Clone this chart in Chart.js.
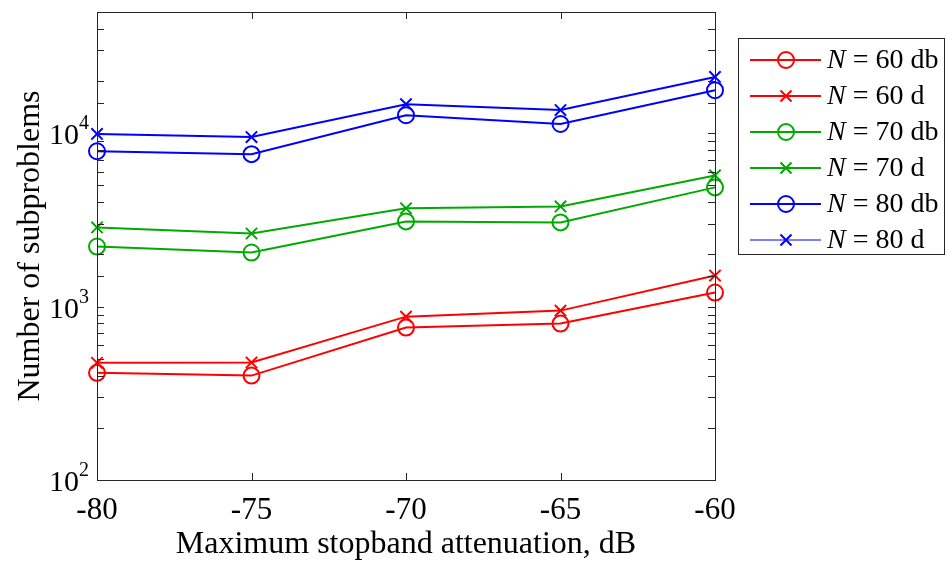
<!DOCTYPE html>
<html>
<head>
<meta charset="utf-8">
<script src="https://cdn.jsdelivr.net/npm/chart.js@4"></script>
<style>
  body { margin: 0; background: #fff; }
</style>
</head>
<body>
<canvas id="subChart" width="946" height="565"></canvas>
<script>
// values (log y axis)
const attenuation = [-80, -75, -70, -65, -60];
const n60db = [415, 400, 757, 798, 1205];
const n60d  = [474, 476, 875, 948, 1510];
const n70db = [2220, 2050, 3100, 3060, 4870];
const n70d  = [2860, 2640, 3690, 3780, 5710];
const n80db = [7870, 7570, 12700, 11300, 17700];
const n80d  = [9900, 9500, 14700, 13600, 21100];
const yMajorTicks = [100, 1000, 10000];

const RED = '#ff0000', GREEN = '#00aa00', BLUE = '#0000ff';
const FONT = '"Liberation Serif", "Times New Roman", serif';

function series(label, values, color, marker, legendLine) {
    return {
        label: label,
        data: values.map((v, i) => ({ x: attenuation[i], y: v })),
        borderColor: color,
        legendLine: legendLine || color,
        backgroundColor: 'rgba(0,0,0,0)',
        borderWidth: 2,
        pointStyle: marker,
        pointRadius: marker === 'circle' ? 8 : 8,
        pointBorderWidth: 2,
        pointBorderColor: color,
        pointBackgroundColor: 'rgba(0,0,0,0)',
        tension: 0,
        clip: false
    };
}

// frame, inward ticks, y labels with exponent, and the legend box
const matlabLook = {
    id: 'matlabLook',
    afterDraw(chart) {
        const ctx = chart.ctx;
        const a = chart.chartArea;
        const xs = chart.scales.x, ys = chart.scales.y;
        ctx.save();
        ctx.strokeStyle = '#262626';
        ctx.lineWidth = 1;
        ctx.strokeRect(a.left + 0.5, a.top + 0.5, a.right - a.left, a.bottom - a.top);
        const tl = 7;
        ctx.beginPath();
        xs.ticks.forEach(t => {
            const px = Math.round(xs.getPixelForValue(t.value)) + 0.5;
            ctx.moveTo(px, a.bottom); ctx.lineTo(px, a.bottom - tl);
            ctx.moveTo(px, a.top); ctx.lineTo(px, a.top + tl);
        });
        ys.ticks.forEach(t => {
            const py = Math.round(ys.getPixelForValue(t.value)) + 0.5;
            ctx.moveTo(a.left, py); ctx.lineTo(a.left + tl, py);
            ctx.moveTo(a.right, py); ctx.lineTo(a.right - tl, py);
        });
        ctx.stroke();

        // y tick labels 10^n
        ctx.fillStyle = '#000';
        ctx.textBaseline = 'alphabetic';
        yMajorTicks.forEach(v => {
            const py = ys.getPixelForValue(v);
            const exp = String(Math.round(Math.log10(v)));
            ctx.font = '20px ' + FONT;
            const ew = ctx.measureText(exp).width;
            ctx.textAlign = 'left';
            ctx.fillText(exp, a.left - 8 - ew, py - 4);
            ctx.font = '30px ' + FONT;
            ctx.textAlign = 'right';
            ctx.fillText('10', a.left - 8 - ew, py + 11);
        });

        // legend
        const lx = 738, ly = 38, lw = 207, lh = 217;
        ctx.fillStyle = '#fff';
        ctx.fillRect(lx, ly, lw, lh);
        ctx.strokeStyle = '#262626';
        ctx.lineWidth = 1;
        ctx.strokeRect(lx + 0.5, ly + 0.5, lw - 1, lh - 1);
        chart.data.datasets.forEach((ds, i) => {
            const cy = ly + 22 + i * 36;
            ctx.strokeStyle = ds.legendLine;
            ctx.lineWidth = 2;
            ctx.beginPath();
            ctx.moveTo(lx + 12, cy); ctx.lineTo(lx + 83, cy);
            ctx.stroke();
            ctx.strokeStyle = ds.borderColor;
            const mx = lx + 48;
            ctx.beginPath();
            if (ds.pointStyle === 'circle') {
                ctx.arc(mx, cy, 8, 0, Math.PI * 2);
            } else {
                ctx.moveTo(mx - 5.5, cy - 5.5); ctx.lineTo(mx + 5.5, cy + 5.5);
                ctx.moveTo(mx + 5.5, cy - 5.5); ctx.lineTo(mx - 5.5, cy + 5.5);
            }
            ctx.stroke();
            ctx.fillStyle = '#000';
            ctx.textAlign = 'left';
            ctx.textBaseline = 'middle';
            ctx.font = 'italic 28px ' + FONT;
            ctx.fillText('N', lx + 89, cy + 1);
            const nw = ctx.measureText('N').width;
            ctx.font = '28px ' + FONT;
            ctx.fillText(' = ' + ds.label, lx + 89 + nw, cy + 1);
        });
        ctx.restore();
    }
};

const ctx = document.getElementById('subChart').getContext('2d');
new Chart(ctx, {
    type: 'line',
    data: {
        datasets: [
            series('60 db', n60db, RED, 'circle'),
            series('60 d', n60d, RED, 'crossRot'),
            series('70 db', n70db, GREEN, 'circle'),
            series('70 d', n70d, GREEN, 'crossRot'),
            series('80 db', n80db, BLUE, 'circle'),
            series('80 d', n80d, BLUE, 'crossRot', '#7f7fff')
        ]
    },
    options: {
        responsive: false,
        animation: false,
        layout: { padding: { top: 12, right: 231, left: 0, bottom: 0 } },
        plugins: {
            legend: { display: false },
            tooltip: { enabled: false }
        },
        scales: {
            x: {
                type: 'linear',
                min: -80,
                max: -60,
                grid: { display: false, drawTicks: false },
                border: { display: false },
                ticks: {
                    stepSize: 5,
                    padding: 12,
                    color: '#000',
                    font: { family: FONT, size: 31 },
                    maxRotation: 0
                },
                title: {
                    display: true,
                    text: 'Maximum stopband attenuation, dB',
                    color: '#000',
                    font: { family: FONT, size: 32 },
                    padding: { top: 0, bottom: 1 }
                },
                afterFit(scale) { scale.height = 85; }
            },
            y: {
                type: 'logarithmic',
                min: 100,
                max: 50000,
                grid: { display: false, drawTicks: false },
                border: { display: false },
                ticks: {
                    autoSkip: false,
                    callback: () => ''
                },
                title: {
                    display: true,
                    text: 'Number of subproblems',
                    color: '#000',
                    font: { family: FONT, size: 32 },
                    padding: { top: 11, bottom: 0 }
                },
                afterFit(scale) { scale.width = 97; }
            }
        }
    },
    plugins: [matlabLook]
});
</script>
</body>
</html>
